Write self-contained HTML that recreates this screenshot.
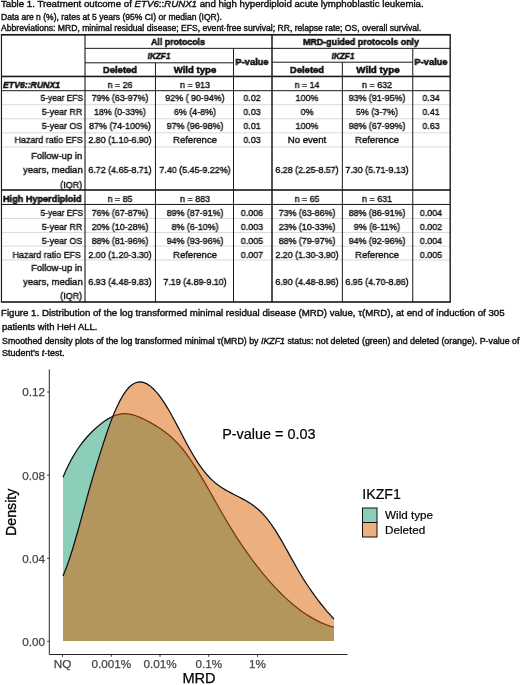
<!DOCTYPE html>
<html lang="en"><head><meta charset="utf-8"><title>Table 1 and Figure 1</title>
<style>
html,body{margin:0;padding:0;background:#fff;}
body{width:520px;height:685px;position:relative;overflow:hidden;font-family:"Liberation Sans", sans-serif;color:#111;}
.t{position:absolute;white-space:nowrap;line-height:1;transform-origin:0 50%;-webkit-text-stroke:0.4px #111;will-change:transform;}
.t.b{-webkit-text-stroke:0.55px #111;}
.t.m{transform-origin:50% 50%;}.t.r{transform-origin:100% 50%;}
.l{position:absolute;}
svg{position:absolute;left:0;top:0;}
svg text{font-family:"Liberation Sans", sans-serif;}
</style></head><body>
<svg width="520" height="685" viewBox="0 0 520 685">
<rect x="1.45" y="104.20" width="448.75" height="1.00" fill="#dadada"/>
<rect x="1.45" y="118.30" width="448.75" height="1.00" fill="#dadada"/>
<rect x="1.45" y="132.35" width="448.75" height="1.00" fill="#dadada"/>
<rect x="1.45" y="146.40" width="448.75" height="1.00" fill="#dadada"/>
<rect x="1.45" y="217.95" width="448.75" height="1.00" fill="#dadada"/>
<rect x="1.45" y="231.95" width="448.75" height="1.00" fill="#dadada"/>
<rect x="1.45" y="245.65" width="448.75" height="1.00" fill="#dadada"/>
<rect x="1.45" y="259.50" width="448.75" height="1.00" fill="#dadada"/>
<rect x="0.85" y="33.95" width="450.05" height="1.70" fill="#1a1a1a"/>
<rect x="0.85" y="301.20" width="450.05" height="1.60" fill="#1a1a1a"/>
<rect x="0.88" y="34.80" width="1.15" height="267.20" fill="#1a1a1a"/>
<rect x="449.50" y="34.80" width="1.40" height="267.20" fill="#1a1a1a"/>
<rect x="271.25" y="34.80" width="1.50" height="267.20" fill="#1a1a1a"/>
<rect x="1.45" y="75.65" width="448.75" height="1.60" fill="#1a1a1a"/>
<rect x="1.45" y="189.20" width="448.75" height="1.60" fill="#1a1a1a"/>
<rect x="85.00" y="47.85" width="365.20" height="1.00" fill="#1a1a1a"/>
<rect x="85.00" y="62.30" width="148.50" height="1.00" fill="#1a1a1a"/>
<rect x="272.00" y="61.70" width="140.75" height="1.00" fill="#1a1a1a"/>
<rect x="1.45" y="90.20" width="448.75" height="1.00" fill="#1a1a1a"/>
<rect x="1.45" y="203.95" width="448.75" height="1.00" fill="#1a1a1a"/>
<rect x="84.45" y="34.80" width="1.10" height="267.20" fill="#1a1a1a"/>
<rect x="154.95" y="62.80" width="1.00" height="239.20" fill="#1a1a1a"/>
<rect x="233.00" y="48.35" width="1.00" height="253.65" fill="#1a1a1a"/>
<rect x="341.85" y="62.20" width="1.00" height="239.80" fill="#1a1a1a"/>
<rect x="412.25" y="48.35" width="1.00" height="253.65" fill="#1a1a1a"/>
</svg>
<div class="t l" id="t0" style="top:0px;font-size:9.3px;left:1px;transform:translateY(0.40px) scaleX(1.0419)">Table 1. Treatment outcome of <i>ETV6</i>::<i>RUNX1</i> and high hyperdiploid acute lymphoblastic leukemia.</div>
<div class="t l" id="t1" style="top:13px;font-size:8.5px;left:1px;transform:scaleX(1.0039)">Data are n (%), rates at 5 years (95% CI) or median (IQR).</div>
<div class="t l" id="t2" style="top:24px;font-size:8.5px;left:1px;transform:translateY(0.20px) scaleX(1.0110)">Abbreviations: MRD, minimal residual disease; EFS, event-free survival; RR, relapse rate; OS, overall survival.</div>
<div class="t l" id="t3" style="top:308px;font-size:9.3px;left:1.4px;transform:translateY(0.60px) scaleX(1.0411)">Figure 1. Distribution of the log transformed minimal residual disease (MRD) value, τ(MRD), at end of induction of 305</div>
<div class="t l" id="t4" style="top:323px;font-size:9.3px;left:1.6px;transform:translateY(0.40px) scaleX(1.0142)">patients with HeH ALL.</div>
<div class="t l" id="t5" style="top:337px;font-size:8.5px;left:1.6px;transform:scaleX(1.0379)">Smoothed density plots of the log transformed minimal τ(MRD) by <i>IKZF1</i> status: not deleted (green) and deleted (orange). P-value of</div>
<div class="t l" id="t6" style="top:349px;font-size:8.5px;left:1.6px;transform:scaleX(1.0587)">Student’s <i>t</i>-test.</div>
<div class="t m b" id="t7" style="top:37px;font-size:9.5px;font-weight:bold;left:28.25px;width:300px;text-align:center;transform:scaleX(0.9300)">All protocols</div>
<div class="t m b" id="t8" style="top:37px;font-size:9.5px;font-weight:bold;left:211px;width:300px;text-align:center;transform:scaleX(0.9352)">MRD-guided protocols only</div>
<div class="t m b" id="t9" style="top:51px;font-size:9.5px;font-style:italic;font-weight:bold;left:9.1px;width:300px;text-align:center;transform:scaleX(0.8639)">IKZF1</div>
<div class="t m b" id="t10" style="top:51px;font-size:9.5px;font-style:italic;font-weight:bold;left:192.6px;width:300px;text-align:center;transform:scaleX(0.8639)">IKZF1</div>
<div class="t m b" id="t11" style="top:65px;font-size:9.5px;font-weight:bold;left:-30px;width:300px;text-align:center;transform:scaleX(0.9904)">Deleted</div>
<div class="t m b" id="t12" style="top:65px;font-size:9.5px;font-weight:bold;left:44.6px;width:300px;text-align:center;transform:scaleX(1.0085)">Wild type</div>
<div class="t m b" id="t13" style="top:65px;font-size:9.5px;font-weight:bold;left:157.25px;width:300px;text-align:center;transform:scaleX(0.9904)">Deleted</div>
<div class="t m b" id="t14" style="top:65px;font-size:9.5px;font-weight:bold;left:228.4px;width:300px;text-align:center;transform:scaleX(1.0323)">Wild type</div>
<div class="t m b" id="t15" style="top:57px;font-size:9.5px;font-weight:bold;left:101.9px;width:300px;text-align:center;transform:scaleX(0.9764)">P-value</div>
<div class="t m b" id="t16" style="top:57px;font-size:9.5px;font-weight:bold;left:281px;width:300px;text-align:center;transform:scaleX(0.9764)">P-value</div>
<div class="t l b" id="t17" style="top:80px;font-size:9.5px;font-style:italic;font-weight:bold;left:2.6px;transform:scaleX(0.9150)">ETV6::RUNX1</div>
<div class="t m" id="t18" style="top:80px;font-size:9.5px;left:-30px;width:300px;text-align:center;transform:scaleX(0.9368)">n = 26</div>
<div class="t m" id="t19" style="top:80px;font-size:9.5px;left:44.6px;width:300px;text-align:center;transform:scaleX(0.9368)">n = 913</div>
<div class="t m" id="t20" style="top:80px;font-size:9.5px;left:157.25px;width:300px;text-align:center;transform:scaleX(0.9368)">n = 14</div>
<div class="t m" id="t21" style="top:80px;font-size:9.5px;left:227.4px;width:300px;text-align:center;transform:scaleX(0.9368)">n = 632</div>
<div class="t r" id="t22" style="top:93px;font-size:9.5px;right:437.3px;transform:scaleX(0.8846)">5-year EFS</div>
<div class="t m" id="t23" style="top:93px;font-size:9.5px;left:-30px;width:300px;text-align:center;transform:scaleX(0.9368)">79% (63-97%)</div>
<div class="t m" id="t24" style="top:93px;font-size:9.5px;left:44.6px;width:300px;text-align:center;transform:scaleX(0.9368)">92% ( 90-94%)</div>
<div class="t m" id="t25" style="top:93px;font-size:9.5px;left:101.9px;width:300px;text-align:center;transform:scaleX(0.9368)">0.02</div>
<div class="t m" id="t26" style="top:93px;font-size:9.5px;left:157.25px;width:300px;text-align:center;transform:scaleX(0.9368)">100%</div>
<div class="t m" id="t27" style="top:93px;font-size:9.5px;left:227.4px;width:300px;text-align:center;transform:scaleX(0.9368)">93% (91-95%)</div>
<div class="t m" id="t28" style="top:93px;font-size:9.5px;left:281px;width:300px;text-align:center;transform:scaleX(0.9368)">0.34</div>
<div class="t r" id="t29" style="top:107px;font-size:9.5px;right:437.3px;transform:scaleX(0.9368)">5-year RR</div>
<div class="t m" id="t30" style="top:107px;font-size:9.5px;left:-30px;width:300px;text-align:center;transform:scaleX(0.9368)">18% (0-33%)</div>
<div class="t m" id="t31" style="top:107px;font-size:9.5px;left:44.6px;width:300px;text-align:center;transform:scaleX(0.9368)">6% (4-8%)</div>
<div class="t m" id="t32" style="top:107px;font-size:9.5px;left:101.9px;width:300px;text-align:center;transform:scaleX(0.9368)">0.03</div>
<div class="t m" id="t33" style="top:107px;font-size:9.5px;left:157.25px;width:300px;text-align:center;transform:scaleX(0.9368)">0%</div>
<div class="t m" id="t34" style="top:107px;font-size:9.5px;left:227.4px;width:300px;text-align:center;transform:scaleX(0.9368)">5% (3-7%)</div>
<div class="t m" id="t35" style="top:107px;font-size:9.5px;left:281px;width:300px;text-align:center;transform:scaleX(0.9368)">0.41</div>
<div class="t r" id="t36" style="top:121px;font-size:9.5px;right:437.3px;transform:scaleX(0.9368)">5-year OS</div>
<div class="t m" id="t37" style="top:121px;font-size:9.5px;left:-30px;width:300px;text-align:center;transform:scaleX(0.9368)">87% (74-100%)</div>
<div class="t m" id="t38" style="top:121px;font-size:9.5px;left:44.6px;width:300px;text-align:center;transform:scaleX(0.9368)">97% (96-98%)</div>
<div class="t m" id="t39" style="top:121px;font-size:9.5px;left:101.9px;width:300px;text-align:center;transform:scaleX(0.9368)">0.01</div>
<div class="t m" id="t40" style="top:121px;font-size:9.5px;left:157.25px;width:300px;text-align:center;transform:scaleX(0.9368)">100%</div>
<div class="t m" id="t41" style="top:121px;font-size:9.5px;left:227.4px;width:300px;text-align:center;transform:scaleX(0.9368)">98% (67-99%)</div>
<div class="t m" id="t42" style="top:121px;font-size:9.5px;left:281px;width:300px;text-align:center;transform:scaleX(0.9368)">0.63</div>
<div class="t r" id="t43" style="top:135px;font-size:9.5px;right:437.3px;transform:scaleX(0.9368)">Hazard ratio EFS</div>
<div class="t m" id="t44" style="top:135px;font-size:9.5px;left:-30px;width:300px;text-align:center;transform:scaleX(0.9368)">2.80 (1.10-6.90)</div>
<div class="t m" id="t45" style="top:135px;font-size:9.5px;left:44.6px;width:300px;text-align:center;transform:scaleX(0.9922)">Reference</div>
<div class="t m" id="t46" style="top:135px;font-size:9.5px;left:101.9px;width:300px;text-align:center;transform:scaleX(0.9368)">0.03</div>
<div class="t m" id="t47" style="top:135px;font-size:9.5px;left:157.25px;width:300px;text-align:center;transform:scaleX(1.0123)">No event</div>
<div class="t m" id="t48" style="top:135px;font-size:9.5px;left:227.4px;width:300px;text-align:center;transform:scaleX(0.9922)">Reference</div>
<div class="t r" id="t49" style="top:151px;font-size:9.5px;right:437.3px;transform:scaleX(0.9957)">Follow-up in</div>
<div class="t r" id="t50" style="top:165px;font-size:9.5px;right:437.3px;transform:scaleX(0.9971)">years, median</div>
<div class="t r" id="t51" style="top:180px;font-size:9.5px;right:437.3px;transform:scaleX(0.9475)">(IQR)</div>
<div class="t m" id="t52" style="top:165px;font-size:9.5px;left:-30px;width:300px;text-align:center;transform:scaleX(0.9368)">6.72 (4.65-8.71)</div>
<div class="t m" id="t53" style="top:165px;font-size:9.5px;left:44.6px;width:300px;text-align:center;transform:scaleX(0.9368)">7.40 (5.45-9.22%)</div>
<div class="t m" id="t54" style="top:165px;font-size:9.5px;left:157.25px;width:300px;text-align:center;transform:scaleX(0.9368)">6.28 (2.25-8.57)</div>
<div class="t m" id="t55" style="top:165px;font-size:9.5px;left:227.4px;width:300px;text-align:center;transform:scaleX(0.9368)">7.30 (5.71-9.13)</div>
<div class="t l b" id="t56" style="top:194px;font-size:9.5px;font-weight:bold;left:2.6px;transform:scaleX(0.9595)">High Hyperdiploid</div>
<div class="t m" id="t57" style="top:194px;font-size:9.5px;left:-30px;width:300px;text-align:center;transform:scaleX(0.9368)">n = 85</div>
<div class="t m" id="t58" style="top:194px;font-size:9.5px;left:44.6px;width:300px;text-align:center;transform:scaleX(0.9368)">n = 883</div>
<div class="t m" id="t59" style="top:194px;font-size:9.5px;left:157.25px;width:300px;text-align:center;transform:scaleX(0.9368)">n = 65</div>
<div class="t m" id="t60" style="top:194px;font-size:9.5px;left:227.4px;width:300px;text-align:center;transform:scaleX(0.9368)">n = 631</div>
<div class="t r" id="t61" style="top:208px;font-size:9.5px;right:437.3px;transform:scaleX(0.8846)">5-year EFS</div>
<div class="t m" id="t62" style="top:208px;font-size:9.5px;left:-30px;width:300px;text-align:center;transform:scaleX(0.9368)">76% (67-87%)</div>
<div class="t m" id="t63" style="top:208px;font-size:9.5px;left:44.6px;width:300px;text-align:center;transform:scaleX(0.9368)">89% (87-91%)</div>
<div class="t m" id="t64" style="top:208px;font-size:9.5px;left:101.9px;width:300px;text-align:center;transform:scaleX(0.9368)">0.006</div>
<div class="t m" id="t65" style="top:208px;font-size:9.5px;left:157.25px;width:300px;text-align:center;transform:scaleX(0.9368)">73% (63-86%)</div>
<div class="t m" id="t66" style="top:208px;font-size:9.5px;left:227.4px;width:300px;text-align:center;transform:scaleX(0.9368)">88% (86-91%)</div>
<div class="t m" id="t67" style="top:208px;font-size:9.5px;left:281px;width:300px;text-align:center;transform:scaleX(0.9368)">0.004</div>
<div class="t r" id="t68" style="top:222px;font-size:9.5px;right:437.3px;transform:scaleX(0.9368)">5-year RR</div>
<div class="t m" id="t69" style="top:222px;font-size:9.5px;left:-30px;width:300px;text-align:center;transform:scaleX(0.9368)">20% (10-28%)</div>
<div class="t m" id="t70" style="top:222px;font-size:9.5px;left:44.6px;width:300px;text-align:center;transform:scaleX(0.9368)">8% (6-10%)</div>
<div class="t m" id="t71" style="top:222px;font-size:9.5px;left:101.9px;width:300px;text-align:center;transform:scaleX(0.9368)">0.003</div>
<div class="t m" id="t72" style="top:222px;font-size:9.5px;left:157.25px;width:300px;text-align:center;transform:scaleX(0.9368)">23% (10-33%)</div>
<div class="t m" id="t73" style="top:222px;font-size:9.5px;left:227.4px;width:300px;text-align:center;transform:scaleX(0.9368)">9% (6-11%)</div>
<div class="t m" id="t74" style="top:222px;font-size:9.5px;left:281px;width:300px;text-align:center;transform:scaleX(0.9368)">0.002</div>
<div class="t r" id="t75" style="top:236px;font-size:9.5px;right:437.3px;transform:scaleX(0.9368)">5-year OS</div>
<div class="t m" id="t76" style="top:236px;font-size:9.5px;left:-30px;width:300px;text-align:center;transform:scaleX(0.9368)">88% (81-96%)</div>
<div class="t m" id="t77" style="top:236px;font-size:9.5px;left:44.6px;width:300px;text-align:center;transform:scaleX(0.9368)">94% (93-96%)</div>
<div class="t m" id="t78" style="top:236px;font-size:9.5px;left:101.9px;width:300px;text-align:center;transform:scaleX(0.9368)">0.005</div>
<div class="t m" id="t79" style="top:236px;font-size:9.5px;left:157.25px;width:300px;text-align:center;transform:scaleX(0.9368)">88% (79-97%)</div>
<div class="t m" id="t80" style="top:236px;font-size:9.5px;left:227.4px;width:300px;text-align:center;transform:scaleX(0.9368)">94% (92-96%)</div>
<div class="t m" id="t81" style="top:236px;font-size:9.5px;left:281px;width:300px;text-align:center;transform:scaleX(0.9368)">0.004</div>
<div class="t r" id="t82" style="top:250px;font-size:9.5px;right:439.6px;transform:scaleX(0.9368)">Hazard ratio EFS</div>
<div class="t m" id="t83" style="top:250px;font-size:9.5px;left:-30px;width:300px;text-align:center;transform:scaleX(0.9368)">2.00 (1.20-3.30)</div>
<div class="t m" id="t84" style="top:250px;font-size:9.5px;left:44.6px;width:300px;text-align:center;transform:scaleX(0.9922)">Reference</div>
<div class="t m" id="t85" style="top:250px;font-size:9.5px;left:101.9px;width:300px;text-align:center;transform:scaleX(0.9368)">0.007</div>
<div class="t m" id="t86" style="top:250px;font-size:9.5px;left:157.25px;width:300px;text-align:center;transform:scaleX(0.9368)">2.20 (1.30-3.90)</div>
<div class="t m" id="t87" style="top:250px;font-size:9.5px;left:227.4px;width:300px;text-align:center;transform:scaleX(0.9922)">Reference</div>
<div class="t m" id="t88" style="top:250px;font-size:9.5px;left:281px;width:300px;text-align:center;transform:scaleX(0.9368)">0.005</div>
<div class="t r" id="t89" style="top:263px;font-size:9.5px;right:437.3px;transform:scaleX(0.9957)">Follow-up in</div>
<div class="t r" id="t90" style="top:277px;font-size:9.5px;right:437.3px;transform:scaleX(0.9971)">years, median</div>
<div class="t r" id="t91" style="top:291px;font-size:9.5px;right:437.3px;transform:scaleX(0.9475)">(IQR)</div>
<div class="t m" id="t92" style="top:277px;font-size:9.5px;left:-30px;width:300px;text-align:center;transform:scaleX(0.9368)">6.93 (4.48-9.83)</div>
<div class="t m" id="t93" style="top:277px;font-size:9.5px;left:44.6px;width:300px;text-align:center;transform:scaleX(0.9368)">7.19 (4.89-9.10)</div>
<div class="t m" id="t94" style="top:277px;font-size:9.5px;left:157.25px;width:300px;text-align:center;transform:scaleX(0.9368)">6.90 (4.48-8.96)</div>
<div class="t m" id="t95" style="top:277px;font-size:9.5px;left:227.4px;width:300px;text-align:center;transform:scaleX(0.9368)">6.95 (4.70-8.86)</div>
<svg width="520" height="685" viewBox="0 0 520 685">
<path d="M63.0,477.2 L66.0,470.3 L69.0,464.0 L72.0,458.4 L75.0,453.2 L78.0,448.5 L81.0,444.3 L84.0,440.5 L87.0,437.0 L90.0,433.8 L93.0,430.8 L96.0,428.0 L99.0,425.4 L102.0,423.0 L105.0,420.8 L108.0,418.9 L111.0,417.2 L114.0,415.8 L117.0,414.8 L120.0,414.1 L123.0,413.7 L126.0,413.7 L129.0,414.1 L132.0,414.7 L135.0,415.5 L138.0,416.6 L141.0,417.9 L144.0,419.3 L147.0,420.8 L150.0,422.4 L153.0,424.1 L156.0,425.9 L159.0,427.7 L162.0,429.7 L165.0,431.9 L168.0,434.3 L171.0,436.8 L174.0,439.6 L177.0,442.6 L180.0,445.9 L183.0,449.5 L186.0,453.4 L189.0,457.6 L192.0,462.0 L195.0,466.6 L198.0,471.4 L201.0,476.3 L204.0,481.4 L207.0,486.6 L210.0,491.8 L213.0,497.1 L216.0,502.5 L219.0,507.8 L222.0,513.0 L225.0,518.2 L228.0,523.3 L231.0,528.3 L234.0,533.1 L237.0,537.8 L240.0,542.4 L243.0,546.9 L246.0,551.2 L249.0,555.4 L252.0,559.5 L255.0,563.5 L258.0,567.4 L261.0,571.2 L264.0,574.8 L267.0,578.4 L270.0,581.8 L273.0,585.2 L276.0,588.4 L279.0,591.5 L282.0,594.5 L285.0,597.4 L288.0,600.1 L291.0,602.8 L294.0,605.3 L297.0,607.7 L300.0,610.0 L303.0,612.2 L306.0,614.2 L309.0,616.1 L312.0,617.9 L315.0,619.6 L318.0,621.1 L321.0,622.6 L324.0,623.9 L327.0,625.0 L330.0,626.1 L333.0,627.0 L334.0,627.3 L334,641 L63,641 Z" fill="#1b9e77" fill-opacity="0.5"/>
<path d="M63.0,477.2 L66.0,470.3 L69.0,464.0 L72.0,458.4 L75.0,453.2 L78.0,448.5 L81.0,444.3 L84.0,440.5 L87.0,437.0 L90.0,433.8 L93.0,430.8 L96.0,428.0 L99.0,425.4 L102.0,423.0 L105.0,420.8 L108.0,418.9 L111.0,417.2 L114.0,415.8 L117.0,414.8 L120.0,414.1 L123.0,413.7 L126.0,413.7 L129.0,414.1 L132.0,414.7 L135.0,415.5 L138.0,416.6 L141.0,417.9 L144.0,419.3 L147.0,420.8 L150.0,422.4 L153.0,424.1 L156.0,425.9 L159.0,427.7 L162.0,429.7 L165.0,431.9 L168.0,434.3 L171.0,436.8 L174.0,439.6 L177.0,442.6 L180.0,445.9 L183.0,449.5 L186.0,453.4 L189.0,457.6 L192.0,462.0 L195.0,466.6 L198.0,471.4 L201.0,476.3 L204.0,481.4 L207.0,486.6 L210.0,491.8 L213.0,497.1 L216.0,502.5 L219.0,507.8 L222.0,513.0 L225.0,518.2 L228.0,523.3 L231.0,528.3 L234.0,533.1 L237.0,537.8 L240.0,542.4 L243.0,546.9 L246.0,551.2 L249.0,555.4 L252.0,559.5 L255.0,563.5 L258.0,567.4 L261.0,571.2 L264.0,574.8 L267.0,578.4 L270.0,581.8 L273.0,585.2 L276.0,588.4 L279.0,591.5 L282.0,594.5 L285.0,597.4 L288.0,600.1 L291.0,602.8 L294.0,605.3 L297.0,607.7 L300.0,610.0 L303.0,612.2 L306.0,614.2 L309.0,616.1 L312.0,617.9 L315.0,619.6 L318.0,621.1 L321.0,622.6 L324.0,623.9 L327.0,625.0 L330.0,626.1 L333.0,627.0 L334.0,627.3" fill="none" stroke="#111" stroke-width="1.25"/>
<path d="M63.0,575.9 L66.0,568.6 L69.0,560.3 L72.0,551.0 L75.0,541.0 L78.0,530.5 L81.0,519.6 L84.0,508.6 L87.0,497.7 L90.0,487.0 L93.0,476.7 L96.0,466.8 L99.0,457.1 L102.0,447.6 L105.0,438.2 L108.0,429.4 L111.0,421.1 L114.0,413.6 L117.0,406.7 L120.0,400.6 L123.0,395.3 L126.0,390.8 L129.0,387.3 L132.0,384.7 L135.0,383.0 L138.0,382.1 L141.0,382.0 L144.0,382.6 L147.0,383.9 L150.0,385.9 L153.0,388.5 L156.0,391.6 L159.0,395.2 L162.0,399.4 L165.0,403.9 L168.0,408.8 L171.0,414.0 L174.0,419.5 L177.0,425.1 L180.0,430.8 L183.0,436.5 L186.0,442.2 L189.0,447.7 L192.0,453.0 L195.0,458.1 L198.0,462.8 L201.0,467.2 L204.0,471.2 L207.0,474.8 L210.0,478.0 L213.0,480.9 L216.0,483.4 L219.0,485.7 L222.0,487.8 L225.0,489.6 L228.0,491.3 L231.0,492.9 L234.0,494.5 L237.0,496.0 L240.0,497.5 L243.0,499.1 L246.0,500.8 L249.0,502.6 L252.0,504.6 L255.0,506.8 L258.0,509.3 L261.0,512.0 L264.0,515.1 L267.0,518.6 L270.0,522.5 L273.0,526.8 L276.0,531.4 L279.0,536.3 L282.0,541.4 L285.0,546.7 L288.0,552.1 L291.0,557.6 L294.0,562.9 L297.0,568.2 L300.0,573.3 L303.0,578.3 L306.0,583.0 L309.0,587.5 L312.0,591.9 L315.0,596.1 L318.0,600.1 L321.0,604.0 L324.0,607.7 L327.0,611.3 L330.0,614.7 L333.0,618.0 L334.0,619.1 L334,641 L63,641 Z" fill="#d95f02" fill-opacity="0.5"/>
<path d="M63.0,575.9 L66.0,568.6 L69.0,560.3 L72.0,551.0 L75.0,541.0 L78.0,530.5 L81.0,519.6 L84.0,508.6 L87.0,497.7 L90.0,487.0 L93.0,476.7 L96.0,466.8 L99.0,457.1 L102.0,447.6 L105.0,438.2 L108.0,429.4 L111.0,421.1 L114.0,413.6 L117.0,406.7 L120.0,400.6 L123.0,395.3 L126.0,390.8 L129.0,387.3 L132.0,384.7 L135.0,383.0 L138.0,382.1 L141.0,382.0 L144.0,382.6 L147.0,383.9 L150.0,385.9 L153.0,388.5 L156.0,391.6 L159.0,395.2 L162.0,399.4 L165.0,403.9 L168.0,408.8 L171.0,414.0 L174.0,419.5 L177.0,425.1 L180.0,430.8 L183.0,436.5 L186.0,442.2 L189.0,447.7 L192.0,453.0 L195.0,458.1 L198.0,462.8 L201.0,467.2 L204.0,471.2 L207.0,474.8 L210.0,478.0 L213.0,480.9 L216.0,483.4 L219.0,485.7 L222.0,487.8 L225.0,489.6 L228.0,491.3 L231.0,492.9 L234.0,494.5 L237.0,496.0 L240.0,497.5 L243.0,499.1 L246.0,500.8 L249.0,502.6 L252.0,504.6 L255.0,506.8 L258.0,509.3 L261.0,512.0 L264.0,515.1 L267.0,518.6 L270.0,522.5 L273.0,526.8 L276.0,531.4 L279.0,536.3 L282.0,541.4 L285.0,546.7 L288.0,552.1 L291.0,557.6 L294.0,562.9 L297.0,568.2 L300.0,573.3 L303.0,578.3 L306.0,583.0 L309.0,587.5 L312.0,591.9 L315.0,596.1 L318.0,600.1 L321.0,604.0 L324.0,607.7 L327.0,611.3 L330.0,614.7 L333.0,618.0 L334.0,619.1" fill="none" stroke="#111" stroke-width="1.25"/>
<path d="M49.3,369.5 V654.5 H347.5" fill="none" stroke="#262626" stroke-width="1"/>
<path d="M47.2,392 H49.3" stroke="#333" stroke-width="1"/>
<text x="45" y="396.3" font-size="11.7" text-anchor="end" fill="#444" stroke="#444" stroke-width="0.25">0.12</text>
<path d="M47.2,475.2 H49.3" stroke="#333" stroke-width="1"/>
<text x="45" y="479.5" font-size="11.7" text-anchor="end" fill="#444" stroke="#444" stroke-width="0.25">0.08</text>
<path d="M47.2,558.3 H49.3" stroke="#333" stroke-width="1"/>
<text x="45" y="562.6" font-size="11.7" text-anchor="end" fill="#444" stroke="#444" stroke-width="0.25">0.04</text>
<path d="M47.2,641.3 H49.3" stroke="#333" stroke-width="1"/>
<text x="45" y="645.6" font-size="11.7" text-anchor="end" fill="#444" stroke="#444" stroke-width="0.25">0.00</text>
<path d="M62.5,654.5 V656.8" stroke="#333" stroke-width="1"/>
<text x="62.5" y="667.6" font-size="11.7" text-anchor="middle" fill="#444" stroke="#444" stroke-width="0.25">NQ</text>
<path d="M111.25,654.5 V656.8" stroke="#333" stroke-width="1"/>
<text x="111.25" y="667.6" font-size="11.7" text-anchor="middle" fill="#444" stroke="#444" stroke-width="0.25">0.001%</text>
<path d="M160,654.5 V656.8" stroke="#333" stroke-width="1"/>
<text x="160" y="667.6" font-size="11.7" text-anchor="middle" fill="#444" stroke="#444" stroke-width="0.25">0.01%</text>
<path d="M208.75,654.5 V656.8" stroke="#333" stroke-width="1"/>
<text x="208.75" y="667.6" font-size="11.7" text-anchor="middle" fill="#444" stroke="#444" stroke-width="0.25">0.1%</text>
<path d="M257.5,654.5 V656.8" stroke="#333" stroke-width="1"/>
<text x="257.5" y="667.6" font-size="11.7" text-anchor="middle" fill="#444" stroke="#444" stroke-width="0.25">1%</text>
<text x="199" y="683" font-size="14.6" text-anchor="middle" fill="#000" stroke="#000" stroke-width="0.25">MRD</text>
<text transform="translate(16,512.3) rotate(-90)" font-size="14.5" text-anchor="middle" textLength="47.5" lengthAdjust="spacingAndGlyphs" fill="#000" stroke="#000" stroke-width="0.3">Density</text>
<text x="222.2" y="439" font-size="14.4" fill="#000" stroke="#000" stroke-width="0.2">P-value = 0.03</text>
<text x="362.3" y="498.8" font-size="14.2" fill="#000" stroke="#000" stroke-width="0.2">IKZF1</text>
<rect x="362.5" y="508" width="14.5" height="14.5" fill="#1b9e77" fill-opacity="0.5" stroke="#111" stroke-width="1"/>
<rect x="362.5" y="522.5" width="14.5" height="14.5" fill="#d95f02" fill-opacity="0.5" stroke="#111" stroke-width="1"/>
<text x="385" y="519.3" font-size="11.7" fill="#000" stroke="#000" stroke-width="0.2">Wild type</text>
<text x="385" y="533.8" font-size="11.7" fill="#000" stroke="#000" stroke-width="0.2">Deleted</text>
</svg>
</body></html>
